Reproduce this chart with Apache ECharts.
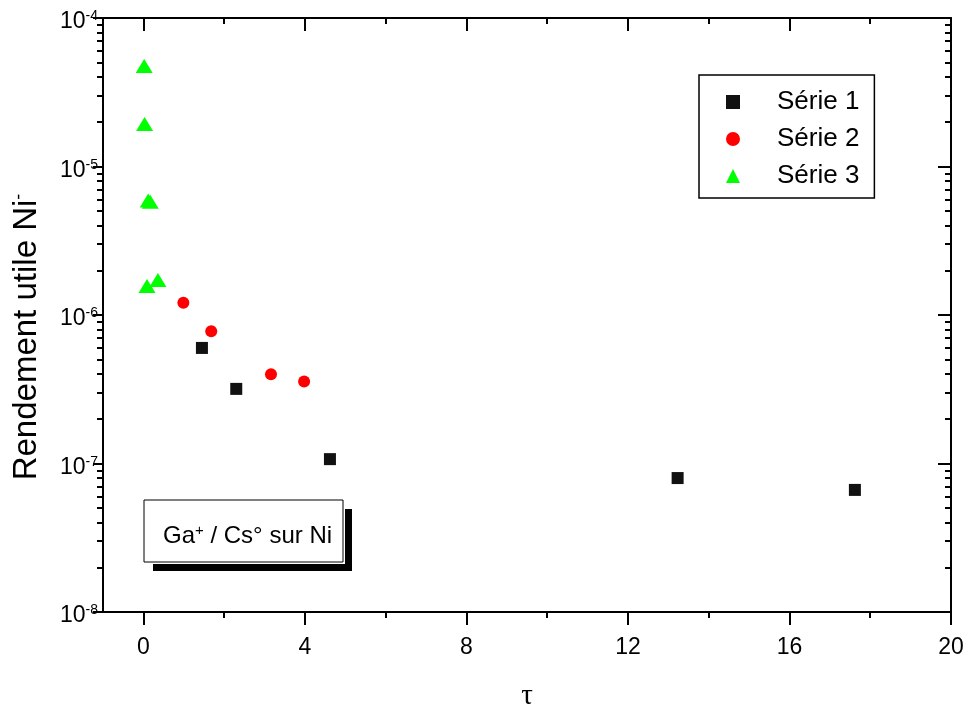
<!DOCTYPE html>
<html>
<head>
<meta charset="utf-8">
<script src="https://cdn.jsdelivr.net/npm/echarts@6/dist/echarts.min.js"></script>
<style>
html, body { margin: 0; padding: 0; background: #fff; }
#main { width: 969px; height: 706px; }
</style>
</head>
<body>
<div id="main"></div>
<script>
// valeurs
const serie1Tau = [1.45, 2.30, 4.62, 13.23, 17.62];
const serie1Rdt = [6.0e-7, 3.18e-7, 1.07e-7, 7.98e-8, 6.64e-8];

const serie2Tau = [0.99, 1.68, 3.16, 3.98];
const serie2Rdt = [1.21e-6, 7.77e-7, 3.99e-7, 3.56e-7];

const serie3Tau = [0.02, 0.03, 0.12, 0.17, 0.09, 0.36];
const serie3Rdt = [4.75e-5, 1.93e-5, 5.9e-6, 5.8e-6, 1.57e-6, 1.72e-6];

const xMajor = [0, 4, 8, 12, 16, 20];
const xMinor = [2, 6, 10, 14, 18];
const yMajor = [1e-8, 1e-7, 1e-6, 1e-5, 1e-4];
const yMinor = [];
[1e-8, 1e-7, 1e-6, 1e-5].forEach(function (d) {
    [2, 3, 4, 5, 6, 7, 8, 9].forEach(function (m) { yMinor.push(m * d); });
});

const FONT = 'Liberation Sans, Arial, sans-serif';
const X_MIN = -1, X_MAX = 20, Y_MIN = 1e-8, Y_MAX = 1e-4;

function pairs(xs, ys) {
    return xs.map(function (x, i) { return [x, ys[i]]; });
}

function xAxisDef(pos, ticks, len, inside, withLine, withLabel) {
    return {
        type: 'value', position: pos, min: X_MIN, max: X_MAX,
        splitLine: { show: false },
        axisLine: { show: withLine, onZero: false, lineStyle: { color: '#000', width: 2 } },
        axisTick: { show: true, customValues: ticks, length: len, inside: inside, lineStyle: { color: '#000', width: 2 } },
        axisLabel: withLabel ? { show: true, customValues: ticks, margin: 24, fontSize: 23, fontFamily: FONT, color: '#000' } : { show: false }
    };
}

function yAxisDef(pos, ticks, len, inside, withLine, withLabel) {
    return {
        type: 'log', logBase: 10, position: pos, min: Y_MIN, max: Y_MAX,
        splitLine: { show: false },
        axisLine: { show: withLine, onZero: false, lineStyle: { color: '#000', width: 2 } },
        axisTick: { show: true, customValues: ticks, length: len, inside: inside, lineStyle: { color: '#000', width: 2 } },
        axisLabel: withLabel ? {
            show: true, customValues: ticks, margin: 5, padding: [8, 0, 0, 0],
            formatter: function (v) { return '{b|10}{e|' + Math.round(Math.log10(v)) + '}'; },
            rich: {
                b: { fontSize: 23, fontFamily: FONT, color: '#000' },
                e: { fontSize: 14, fontFamily: FONT, color: '#000', verticalAlign: 'top', padding: [0, 0, 11, 0] }
            }
        } : { show: false }
    };
}

const chart = echarts.init(document.getElementById('main'));

const xBottom = xAxisDef('bottom', xMajor, 13, false, true, true);
xBottom.name = 'τ';
xBottom.nameLocation = 'middle';
xBottom.nameGap = 70;
xBottom.nameTextStyle = { fontSize: 29, fontFamily: 'Liberation Serif, serif', color: '#000' };

const yLeft = yAxisDef('left', yMajor, 10, false, true, true);
yLeft.name = 'Rendement utile Ni{s|-}';
yLeft.nameLocation = 'middle';
yLeft.nameGap = 60;
yLeft.nameTextStyle = {
    fontSize: 33, fontFamily: FONT, color: '#000', padding: [0, 44, 0, 0],
    rich: { s: { fontSize: 18, fontFamily: FONT, color: '#000', verticalAlign: 'top', padding: [0, 0, 14, 0] } }
};

chart.setOption({
    backgroundColor: '#fff',
    animation: false,
    grid: { left: 103, right: 18, top: 18, bottom: 94, outerBoundsMode: 'none', containLabel: false },
    xAxis: [
        xBottom,
        xAxisDef('bottom', xMinor, 6, false, false, false),
        xAxisDef('top', xMajor, 13, true, true, false),
        xAxisDef('top', xMinor, 6, true, false, false)
    ],
    yAxis: [
        yLeft,
        yAxisDef('left', yMinor, 6, false, false, false),
        yAxisDef('right', yMajor, 13, true, true, false),
        yAxisDef('right', yMinor, 6, true, false, false)
    ],
    legend: {
        orient: 'vertical', left: 699, top: 75,
        data: ['Série 1', 'Série 2', 'Série 3'],
        itemWidth: 14, itemHeight: 14, itemGap: 11,
        padding: [14, 15, 9, 27],
        borderColor: '#000', borderWidth: 1.5, borderRadius: 0,
        textStyle: { fontSize: 26, fontFamily: FONT, color: '#000', padding: [0, 0, 0, 32] }
    },
    graphic: [
        { type: 'rect', shape: { x: 153, y: 509, width: 199, height: 62 }, style: { fill: '#000' }, z: 100 },
        { type: 'rect', shape: { x: 142, y: 498, width: 203, height: 66 }, style: { fill: '#fff' }, z: 101 },
        { type: 'rect', shape: { x: 144, y: 500, width: 199, height: 62 }, style: { fill: '#fff', stroke: '#000', lineWidth: 1 }, z: 102 },
        {
            type: 'text', x: 163, y: 536, z: 103,
            style: {
                text: '{n|Ga}{s|+}{n| / Cs° sur Ni}',
                verticalAlign: 'middle',
                rich: {
                    n: { fontSize: 24, fontFamily: FONT, fill: '#000' },
                    s: { fontSize: 15, fontFamily: FONT, fill: '#000', verticalAlign: 'top', padding: [0, 0, 10, 0] }
                }
            }
        }
    ],
    series: [
        {
            name: 'Série 1', type: 'scatter', symbol: 'rect', symbolSize: 12,
            itemStyle: { color: '#111', opacity: 1 }, data: pairs(serie1Tau, serie1Rdt)
        },
        {
            name: 'Série 2', type: 'scatter', symbol: 'circle', symbolSize: 12,
            itemStyle: { color: '#ff0000', opacity: 1 }, data: pairs(serie2Tau, serie2Rdt)
        },
        {
            name: 'Série 3', type: 'scatter', symbol: 'triangle', symbolSize: [17, 14],
            itemStyle: { color: '#00ff00', opacity: 1 }, data: pairs(serie3Tau, serie3Rdt)
        }
    ]
});
</script>
</body>
</html>
